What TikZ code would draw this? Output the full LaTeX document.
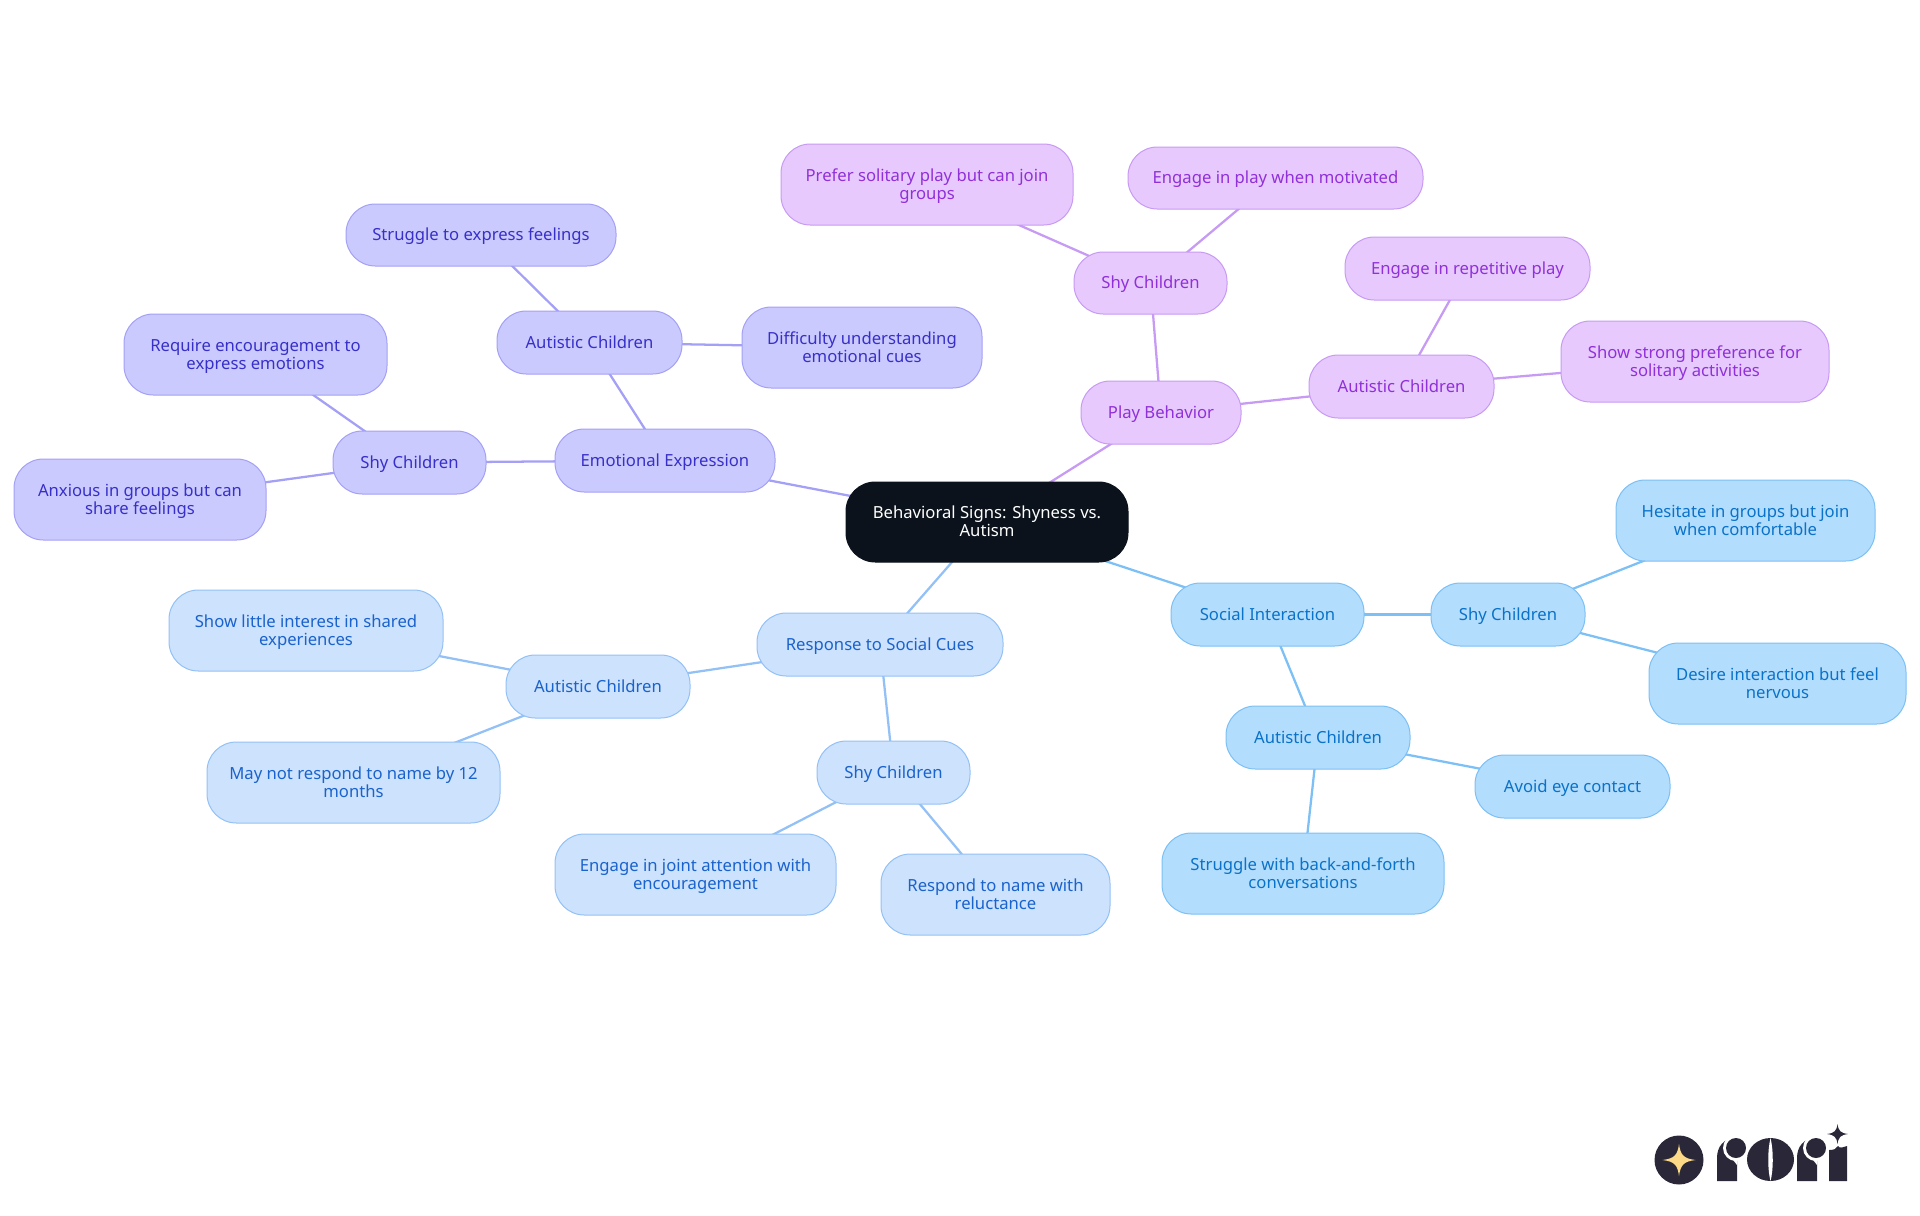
\documentclass[tikz,border=0pt]{standalone}
\usepackage{fontspec}
\setmainfont{Noto Sans}
\usetikzlibrary{backgrounds}
\definecolor{rootfill}{HTML}{0B121B}
\definecolor{sfill}{HTML}{B3DDFD}\definecolor{sline}{HTML}{7CC0F5}\definecolor{stext}{HTML}{0A72C8}
\definecolor{rfill}{HTML}{CCE2FD}\definecolor{rline}{HTML}{93C1F5}\definecolor{rtext}{HTML}{1A62CC}
\definecolor{efill}{HTML}{CBCAFE}\definecolor{eline}{HTML}{A3A0F5}\definecolor{etext}{HTML}{3730C8}
\definecolor{pfill}{HTML}{E7C9FE}\definecolor{pline}{HTML}{C79AF3}\definecolor{ptext}{HTML}{9030D8}
\definecolor{logodark}{HTML}{2A2838}\definecolor{logostar}{HTML}{FBD986}
\tikzset{
  box/.style={rectangle,rounded corners=22pt,inner sep=0pt,line width=0.75pt,align=center,
    font=\fontsize{12.5pt}{13.5pt}\selectfont},
  rootbox/.style={box,fill=rootfill,draw=rootfill,text=white},
  socialbox/.style={box,fill=sfill,draw=sline,text=stext},
  responsebox/.style={box,fill=rfill,draw=rline,text=rtext},
  emotionbox/.style={box,fill=efill,draw=eline,text=etext},
  playbox/.style={box,fill=pfill,draw=pline,text=ptext},
  link/.style={line width=1.7pt},
  slink/.style={link,draw=sline},
  rlink/.style={link,draw=rline},
  elink/.style={link,draw=eline},
  plink/.style={link,draw=pline},
}
\newcommand{\topstrut}{\vrule height 12pt depth 0pt width 0pt\relax}
\newcommand{\botstrut}{\vrule height 0pt depth 3.5pt width 0pt\relax}
% name, x1, y1, x2, y2, style, text
\newcommand{\mm}[7]{\node[#6,minimum width={(#4-#2)*0.75pt},minimum height={(#5-#3)*0.75pt}] (#1) at ({(#2+#4)/2},{(#3+#5)/2}) {\topstrut #7\botstrut};}
\begin{document}
\begin{tikzpicture}[x=0.75pt,y=-0.75pt]
\useasboundingbox (0,0) rectangle (1920,1215);
\mm{root}{846}{482}{1128}{562}{rootbox}{Behavioral Signs: Shyness vs.\\Autism}
\mm{social}{1171}{583}{1364}{646}{socialbox}{Social Interaction}
\mm{sshy}{1431}{583}{1585}{646}{socialbox}{Shy Children}
\mm{hesitate}{1616}{480}{1875}{561}{socialbox}{Hesitate in groups but join\\when comfortable}
\mm{desire}{1649}{643}{1906}{724}{socialbox}{Desire interaction but feel\\nervous}
\mm{saut}{1226}{706}{1410}{769}{socialbox}{Autistic Children}
\mm{avoid}{1475}{755}{1670}{818}{socialbox}{Avoid eye contact}
\mm{conv}{1162}{833}{1444}{914}{socialbox}{Struggle with back-and-forth\\conversations}
\mm{response}{757}{613}{1003}{676}{responsebox}{Response to Social Cues}
\mm{raut}{506}{655}{690}{718}{responsebox}{Autistic Children}
\mm{little}{169}{590}{443}{671}{responsebox}{Show little interest in shared\\experiences}
\mm{mayn}{207}{742}{500}{823}{responsebox}{May not respond to name by 12\\months}
\mm{rshy}{817}{741}{970}{804}{responsebox}{Shy Children}
\mm{joint}{555}{834}{836}{915}{responsebox}{Engage in joint attention with\\encouragement}
\mm{reluct}{881}{854}{1110}{935}{responsebox}{Respond to name with\\reluctance}
\mm{emotion}{555}{429}{775}{492}{emotionbox}{Emotional Expression}
\mm{eshy}{333}{431}{486}{494}{emotionbox}{Shy Children}
\mm{require}{124}{314}{387}{395}{emotionbox}{Require encouragement to\\express emotions}
\mm{anxious}{14}{459}{266}{540}{emotionbox}{Anxious in groups but can\\share feelings}
\mm{eaut}{497}{311}{682}{374}{emotionbox}{Autistic Children}
\mm{feel}{346}{204}{616}{266}{emotionbox}{Struggle to express feelings}
\mm{diffi}{742}{307}{982}{388}{emotionbox}{Difficulty understanding\\emotional cues}
\mm{play}{1081}{381}{1241}{444}{playbox}{Play Behavior}
\mm{pshy}{1074}{252}{1227}{314}{playbox}{Shy Children}
\mm{prefer}{781}{144}{1073}{225}{playbox}{Prefer solitary play but can join\\groups}
\mm{motiv}{1128}{147}{1423}{209}{playbox}{Engage in play when motivated}
\mm{paut}{1309}{355}{1494}{418}{playbox}{Autistic Children}
\mm{repet}{1345}{237}{1590}{300}{playbox}{Engage in repetitive play}
\mm{strong}{1561}{321}{1829}{402}{playbox}{Show strong preference for\\solitary activities}
\begin{scope}[on background layer]
\draw[slink] (root.center) -- (social.center);
\draw[slink] (social.center) -- (sshy.center);
\draw[slink] (sshy.center) -- (hesitate.center);
\draw[slink] (sshy.center) -- (desire.center);
\draw[slink] (social.center) -- (saut.center);
\draw[slink] (saut.center) -- (avoid.center);
\draw[slink] (saut.center) -- (conv.center);
\draw[rlink] (root.center) -- (response.center);
\draw[rlink] (response.center) -- (raut.center);
\draw[rlink] (raut.center) -- (little.center);
\draw[rlink] (raut.center) -- (mayn.center);
\draw[rlink] (response.center) -- (rshy.center);
\draw[rlink] (rshy.center) -- (joint.center);
\draw[rlink] (rshy.center) -- (reluct.center);
\draw[elink] (root.center) -- (emotion.center);
\draw[elink] (emotion.center) -- (eshy.center);
\draw[elink] (eshy.center) -- (require.center);
\draw[elink] (eshy.center) -- (anxious.center);
\draw[elink] (emotion.center) -- (eaut.center);
\draw[elink] (eaut.center) -- (feel.center);
\draw[elink] (eaut.center) -- (diffi.center);
\draw[plink] (root.center) -- (play.center);
\draw[plink] (play.center) -- (pshy.center);
\draw[plink] (pshy.center) -- (prefer.center);
\draw[plink] (pshy.center) -- (motiv.center);
\draw[plink] (play.center) -- (paut.center);
\draw[plink] (paut.center) -- (repet.center);
\draw[plink] (paut.center) -- (strong.center);
\end{scope}
% logo
\fill[logodark] (1679,1160) circle [radius=24.5];
\fill[logostar] (1679,1144) .. controls (1680.5,1155) and (1683.5,1158.5) .. (1695.5,1160) .. controls (1683.5,1161.5) and (1680.5,1165) .. (1679,1176) .. controls (1677.5,1165) and (1674.5,1161.5) .. (1662.5,1160) .. controls (1674.5,1158.5) and (1677.5,1155) .. (1679,1144) -- cycle;
\fill[logodark] (1717,1181) -- (1717,1158) .. controls (1717,1147) and (1723,1138) .. (1737,1138) -- (1737,1181) -- cycle;
\fill[white] (1736,1148) circle [radius=13];
\fill[white] (1730,1156) -- (1737,1156) -- (1737,1165) -- cycle;
\fill[logodark] (1736,1148) circle [radius=10];
\fill[logodark] (1770.5,1159.5) ellipse [x radius=23.5, y radius=21.5];
\fill[white] (1770.5,1138) .. controls (1767.5,1150) and (1767.5,1170) .. (1770.5,1181) .. controls (1773.5,1170) and (1773.5,1150) .. (1770.5,1138) -- cycle;
\fill[logodark] (1797,1181) -- (1797,1158) .. controls (1797,1147) and (1803,1138) .. (1817,1138) -- (1817,1181) -- cycle;
\fill[white] (1816,1148) circle [radius=13];
\fill[white] (1810,1156) -- (1817,1156) -- (1817,1165) -- cycle;
\fill[logodark] (1816,1148) circle [radius=10];
\fill[logodark] (1829,1181) -- (1829,1150) .. controls (1834,1150) and (1836,1149) .. (1838,1146) .. controls (1840,1149) and (1843,1147) .. (1847,1146) -- (1847,1181) -- cycle;
\fill[logodark] (1837.5,1124) .. controls (1838.5,1131) and (1840.5,1133) .. (1848,1134) .. controls (1840.5,1135) and (1838.5,1137) .. (1837.5,1144) .. controls (1836.5,1137) and (1834.5,1135) .. (1827,1134) .. controls (1834.5,1133) and (1836.5,1131) .. (1837.5,1124) -- cycle;
\end{tikzpicture}
\end{document}
